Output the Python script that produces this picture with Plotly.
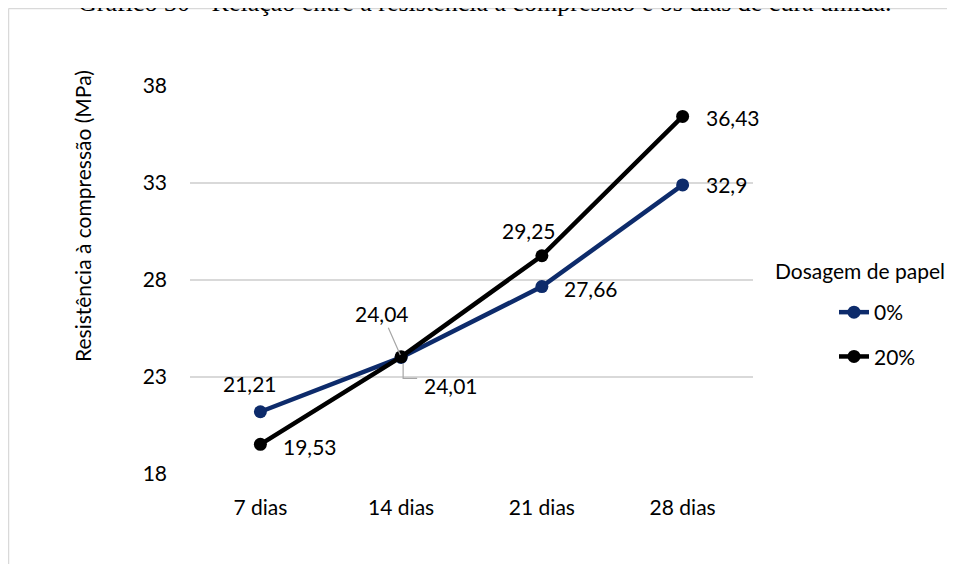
import plotly.graph_objects as go

# ---------------- data ----------------
categories = ["7 dias", "14 dias", "21 dias", "28 dias"]
series_names = ["0%", "20%"]
values_0 = [21.21, 24.01, 27.66, 32.9]
values_20 = [19.53, 24.04, 29.25, 36.43]
y_ticks = [18, 23, 28, 33, 38]
title_text = "Gráfico 30 - Relação entre a resistência à compressão e os dias de cura úmida."
y_title = "Resistência à compressão (MPa)"
legend_title = "Dosagem de papel"

# ---------------- style ----------------
colors = ["#0d2b6b", "#000000"]
FONT = "Lato"
FS = 21
OFF = 8  # page offset of the figure inside the browser window
W, H = 955 - 2 * OFF, 556
ML, MT = 182, 78
PW, PH = 563, 388
MR = W - ML - PW
MB = H - MT - PH


def px_x(p):
    """page pixel x -> paper x"""
    return (p - OFF - ML) / PW


def px_y(p):
    """page pixel y -> paper y"""
    return (H - MB - (p - OFF)) / PH


def fmt(v):
    return f"{v:g}".replace(".", ",")


# label offsets (pixels: dx right, dy up) per series, per point
label_offsets = [
    [(-10, 28), (50, -28), (49, -2), (44, 0)],
    [(50, -2), (-19, 43), (-13, 25), (50, -1)],
]

fig = go.Figure()
all_vals = [values_0, values_20]
for i, (name, vals) in enumerate(zip(series_names, all_vals)):
    fig.add_trace(go.Scatter(
        x=categories, y=vals, name=name, mode="lines+markers",
        line=dict(color=colors[i], width=4.5),
        marker=dict(color=colors[i], size=13),
        legendgroup=name,
    ))

annotations = []
for i, vals in enumerate(all_vals):
    for j, v in enumerate(vals):
        dx, dy = label_offsets[i][j]
        leader = (i == 1 and j == 1)
        if leader:
            annotations.append(dict(
                x=categories[j], y=v, xref="x", yref="y", text=fmt(v),
                showarrow=True, arrowhead=0, arrowwidth=1.2, arrowcolor="#a6a6a6",
                ax=dx, ay=-dy, standoff=2,
                font=dict(family=FONT, size=FS, color="#000000"),
            ))
        else:
            annotations.append(dict(
                x=categories[j], y=v, xref="x", yref="y", text=fmt(v),
                showarrow=False, xshift=dx, yshift=dy,
                xanchor="center", yanchor="middle",
                font=dict(family=FONT, size=FS, color="#000000"),
            ))

# elbow leader for 0% at 14 dias
fig.add_shape(
    type="path", xref="x", yref="y", xsizemode="pixel", ysizemode="pixel",
    xanchor=1, yanchor=values_0[1],
    path="M2,-6 L2,-21 L16,-21",
    line=dict(color="#a6a6a6", width=1.2),
)

# outer chart border (top and left edges only are visible)
fig.add_shape(
    type="line", xref="paper", yref="paper",
    x0=px_x(8.5), x1=px_x(960), y0=px_y(8.5), y1=px_y(8.5),
    line=dict(color="#d9d9d9", width=1.5), layer="below",
)
fig.add_shape(
    type="line", xref="paper", yref="paper",
    x0=px_x(8.5), x1=px_x(8.5), y0=px_y(8.5), y1=px_y(600),
    line=dict(color="#d9d9d9", width=1.5), layer="below",
)

annotations.append(dict(
    x=px_x(485), y=1, xref="paper", yref="paper",
    xanchor="center", yanchor="bottom",
    yshift=67, text=title_text, showarrow=False,
    font=dict(family="Liberation Serif", size=26, color="#000000"),
))
annotations.append(dict(
    x=px_x(860), y=px_y(270), xref="paper", yref="paper",
    xanchor="center", yanchor="middle",
    text=legend_title, showarrow=False,
    font=dict(family=FONT, size=21, color="#000000"),
))
annotations.append(dict(
    x=px_x(82), y=px_y(216), xref="paper", yref="paper",
    xanchor="center", yanchor="middle",
    text=y_title, showarrow=False, textangle=-90,
    font=dict(family=FONT, size=FS, color="#000000"),
))

fig.update_layout(
    width=W, height=H,
    margin=dict(l=ML, r=MR, t=MT, b=MB, autoexpand=False),
    paper_bgcolor="white", plot_bgcolor="white",
    font=dict(family=FONT, size=FS, color="#000000"),
    showlegend=True,
    legend=dict(
        x=px_x(834), y=px_y(292), xanchor="left", yanchor="top",
        traceorder="grouped", tracegroupgap=14,
        font=dict(family=FONT, size=FS, color="#000000"),
        bgcolor="rgba(0,0,0,0)",
    ),
    annotations=annotations,
    xaxis=dict(
        type="category", range=[-0.5, 3.5], showgrid=False, zeroline=False,
        showline=False, ticks="", ticklabelstandoff=19,
        tickfont=dict(family=FONT, size=FS, color="#000000"),
    ),
    yaxis=dict(
        range=[18, 38], tickvals=y_ticks, showgrid=True, gridcolor="#d9d9d9",
        gridwidth=1.5, zeroline=False, showline=False, ticks="",
        ticklabelstandoff=22,
        tickfont=dict(family=FONT, size=FS, color="#000000"),
    ),
)

fig.write_html("out.html")
